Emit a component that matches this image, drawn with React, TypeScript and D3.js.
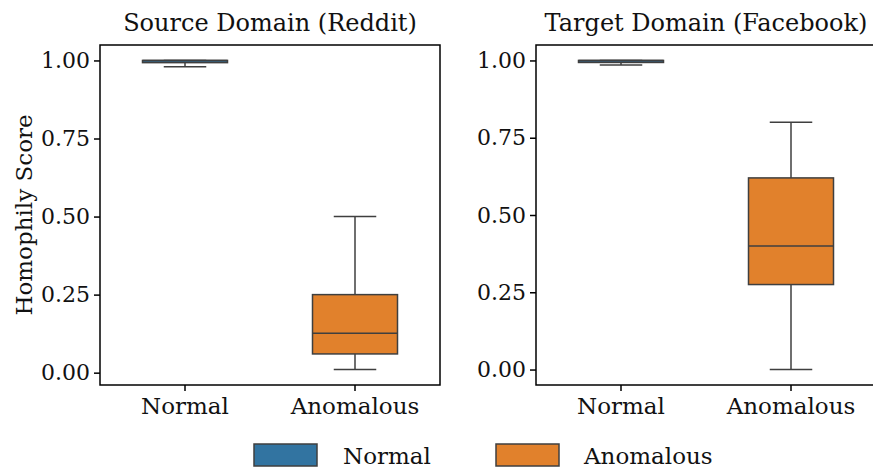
import React, { useEffect, useRef } from 'react';
import * as d3 from 'd3';

// categories and colours
const categories = ['Normal', 'Anomalous'];
const colors = ['#3274a1', '#e1812c'];
const panelTitles = ['Source Domain (Reddit)', 'Target Domain (Facebook)'];
const yTicks = [0, 0.25, 0.5, 0.75, 1.0];

// box stats per panel: [whiskerLow, q1, median, q3, whiskerHigh], one row per category
const redditStats = [
  [0.98, 0.993, 1.0, 1.0, 1.0],
  [0.01, 0.06, 0.126, 0.25, 0.5],
];
const facebookStats = [
  [0.985, 0.9935, 1.0, 1.0, 1.0],
  [0.0, 0.275, 0.4, 0.62, 0.8],
];
const yDomains = [
  [-0.0395, 1.0495],
  [-0.05, 1.05],
];

const FONT = "'DejaVu Serif', 'Liberation Serif', serif";
const LINE = '#3f3f3f';

const App = () => {
  const svgRef = useRef<SVGSVGElement>(null);

  useEffect(() => {
    const svg = d3.select(svgRef.current);
    svg.selectAll('*').remove();

    const panels = [
      { left: 100, stats: redditStats, title: panelTitles[0], domain: yDomains[0], ylabel: true },
      { left: 536, stats: facebookStats, title: panelTitles[1], domain: yDomains[1], ylabel: false },
    ];
    const top = 45;
    const bottom = 385;
    const w = 340;

    panels.forEach((p) => {
      const g = svg.append('g').attr('transform', `translate(${p.left},0)`);

      const x = d3.scaleBand().domain(categories).range([0, w]);
      const y = d3.scaleLinear().domain(p.domain).range([bottom, top]);
      const boxW = x.bandwidth() * 0.5;

      // y axis
      const yAxis = g.append('g')
        .call(d3.axisLeft(y).tickValues(yTicks).tickFormat(d3.format('.2f')).tickSize(6).tickPadding(4));
      yAxis.select('.domain').remove();
      yAxis.selectAll('line').attr('stroke', '#000').attr('stroke-width', 1.5);
      yAxis.selectAll('text').attr('font-family', FONT).attr('font-size', 22).attr('fill', '#111');

      // x axis
      const xAxis = g.append('g')
        .attr('transform', `translate(0,${bottom})`)
        .call(d3.axisBottom(x).tickSize(6).tickPadding(7));
      xAxis.select('.domain').remove();
      xAxis.selectAll('line').attr('stroke', '#000').attr('stroke-width', 1.5);
      xAxis.selectAll('text').attr('font-family', FONT).attr('font-size', 23).attr('fill', '#111');

      // boxes
      p.stats.forEach((s, i) => {
        const cx = x(categories[i])! + x.bandwidth() / 2;
        const [lo, q1, med, q3, hi] = s;
        const bg = g.append('g');
        bg.append('line')
          .attr('x1', cx).attr('x2', cx).attr('y1', y(q1)).attr('y2', y(lo))
          .attr('stroke', LINE).attr('stroke-width', 1.5);
        bg.append('line')
          .attr('x1', cx).attr('x2', cx).attr('y1', y(q3)).attr('y2', y(hi))
          .attr('stroke', LINE).attr('stroke-width', 1.5);
        [lo, hi].forEach((v) => {
          bg.append('line')
            .attr('x1', cx - boxW / 4).attr('x2', cx + boxW / 4)
            .attr('y1', y(v)).attr('y2', y(v))
            .attr('stroke', LINE).attr('stroke-width', 1.5);
        });
        bg.append('rect')
          .attr('x', cx - boxW / 2).attr('width', boxW)
          .attr('y', y(q3)).attr('height', Math.max(y(q1) - y(q3), 0))
          .attr('fill', colors[i]).attr('stroke', LINE).attr('stroke-width', 1.5);
        bg.append('line')
          .attr('x1', cx - boxW / 2).attr('x2', cx + boxW / 2)
          .attr('y1', y(med)).attr('y2', y(med))
          .attr('stroke', LINE).attr('stroke-width', 1.5);
      });

      // frame
      g.append('rect')
        .attr('x', 0).attr('y', top).attr('width', w).attr('height', bottom - top)
        .attr('fill', 'none').attr('stroke', '#000').attr('stroke-width', 1.5);

      // title
      g.append('text')
        .attr('x', w / 2).attr('y', 31)
        .attr('text-anchor', 'middle')
        .attr('font-family', FONT).attr('font-size', 24).attr('fill', '#111')
        .text(p.title);

      if (p.ylabel) {
        svg.append('text')
          .attr('transform', `translate(32,${(top + bottom) / 2}) rotate(-90)`)
          .attr('text-anchor', 'middle')
          .attr('font-family', FONT).attr('font-size', 23).attr('fill', '#111')
          .text('Homophily Score');
      }
    });

    // legend
    const legend = svg.append('g');
    const items = [
      { x: 254, tx: 343 },
      { x: 496, tx: 584 },
    ];
    categories.forEach((c, i) => {
      legend.append('rect')
        .attr('x', items[i].x).attr('y', 444).attr('width', 63).attr('height', 22)
        .attr('fill', colors[i]).attr('stroke', LINE).attr('stroke-width', 1.5);
      legend.append('text')
        .attr('x', items[i].tx).attr('y', 464)
        .attr('font-family', FONT).attr('font-size', 23).attr('fill', '#111')
        .text(c);
    });
  }, []);

  return (
    <svg
      ref={svgRef}
      width={873}
      height={468}
      style={{ position: 'absolute', left: 0, top: 0, background: '#fff' }}
    />
  );
};

export default App;
